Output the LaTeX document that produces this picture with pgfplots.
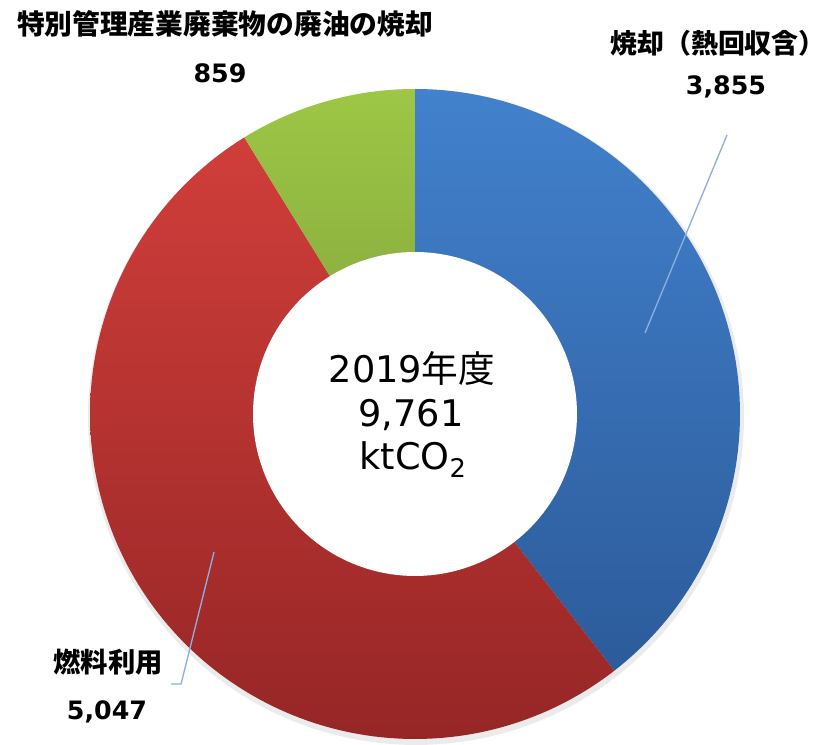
\documentclass[border=0pt]{standalone}
\usepackage{pgfplots}
\usepackage{pgfplotstable}
\pgfplotsset{compat=1.18}
\usepackage{fontspec}
\setmainfont{DejaVu Sans}
\newfontfamily\cjk{Noto Sans CJK JP}

\definecolor{bluetop}{RGB}{66,129,205}
\definecolor{bluebot}{RGB}{44,91,154}
\definecolor{redtop}{RGB}{208,62,58}
\definecolor{redbot}{RGB}{150,38,38}
\definecolor{greentop}{RGB}{157,199,69}
\definecolor{greenbot}{RGB}{130,163,60}
\definecolor{leader}{RGB}{140,175,222}

\pgfplotstableread{
name value
incineration_heat 3855
fuel_use 5047
special_oil 859
}\donutdata

\pgfplotstablegetelem{0}{value}\of\donutdata \let\va\pgfplotsretval
\pgfplotstablegetelem{1}{value}\of\donutdata \let\vb\pgfplotsretval
\pgfplotstablegetelem{2}{value}\of\donutdata \let\vc\pgfplotsretval
\pgfmathsetmacro\vtot{\va+\vb+\vc}
\pgfmathsetmacro\Aa{90}
\pgfmathsetmacro\Ab{\Aa-360*(\va/\vtot)}
\pgfmathsetmacro\Ac{\Ab-360*(\vb/\vtot)}
\pgfmathsetmacro\Ad{\Ac-360*(\vc/\vtot)}

\def\cx{415}
\def\cy{324}
\def\Ro{325}
\def\Ri{162}

\begin{document}
\begin{tikzpicture}
\begin{axis}[
  x=0.75pt, y=0.75pt,
  xmin=0, xmax=832, ymin=0, ymax=738,
  hide axis, clip=false,
]
\path (axis cs:0,0) rectangle (axis cs:832,738);
% soft shadow
\addplot[draw=none, fill=black, fill opacity=0.08, domain=0:360, samples=180, variable=\t]
  ({\cx+1+(\Ro+3)*cos(\t)},{\cy-3+(\Ro+3)*sin(\t)}) -- cycle;
% wedges
\addplot[draw=none, top color=bluetop, bottom color=bluebot, domain=\Ab:\Aa, samples=120, variable=\t]
  ({\cx+\Ro*cos(\t)},{\cy+\Ro*sin(\t)}) -- (axis cs:\cx,\cy) -- cycle;
\addplot[draw=none, top color=redtop, bottom color=redbot, domain=\Ac:\Ab, samples=150, variable=\t]
  ({\cx+\Ro*cos(\t)},{\cy+\Ro*sin(\t)}) -- (axis cs:\cx,\cy) -- cycle;
\addplot[draw=none, top color=greentop, bottom color=greenbot, domain=\Ad:\Ac, samples=40, variable=\t]
  ({\cx+\Ro*cos(\t)},{\cy+\Ro*sin(\t)}) -- (axis cs:\cx,\cy) -- cycle;
% hole
\addplot[draw=none, fill=white, domain=0:360, samples=180, variable=\t]
  ({\cx+\Ri*cos(\t)},{\cy+\Ri*sin(\t)}) -- cycle;
% leader lines
\addplot[leader, line width=1pt, mark=none] coordinates {(645,405) (727,603)};
\addplot[leader, line width=1pt, mark=none] coordinates {(214,186) (181,54) (171,54)};
% labels
\node[anchor=center, font=\cjk\fontsize{20.8}{24}\selectfont\bfseries] at (axis cs:225,714) {特別管理産業廃棄物の廃油の焼却};
\node[anchor=base, font=\fontsize{19}{22}\selectfont\bfseries, inner sep=0pt] at (axis cs:220,655) {859};
\node[anchor=center, font=\cjk\fontsize{20.2}{24}\selectfont\bfseries] at (axis cs:718,695) {焼却（熱回収含）};
\node[anchor=base, font=\fontsize{19}{22}\selectfont\bfseries, inner sep=0pt] at (axis cs:726,643) {3,855};
\node[anchor=center, font=\cjk\fontsize{20.5}{24}\selectfont\bfseries] at (axis cs:108,76) {燃料利用};
\node[anchor=base, font=\fontsize{19}{22}\selectfont\bfseries, inner sep=0pt] at (axis cs:107,18) {5,047};
% centre text
\node[anchor=base, font=\fontsize{27.5}{32}\selectfont, inner sep=0pt] at (axis cs:412,355) {2019{\cjk 年度}};
\node[anchor=base, font=\fontsize{27.5}{32}\selectfont, inner sep=0pt] at (axis cs:411,311) {9,761};
\node[anchor=base, font=\fontsize{27.5}{32}\selectfont, inner sep=0pt] at (axis cs:413,268) {ktCO\textsubscript{2}};
\end{axis}
\end{tikzpicture}
\end{document}
